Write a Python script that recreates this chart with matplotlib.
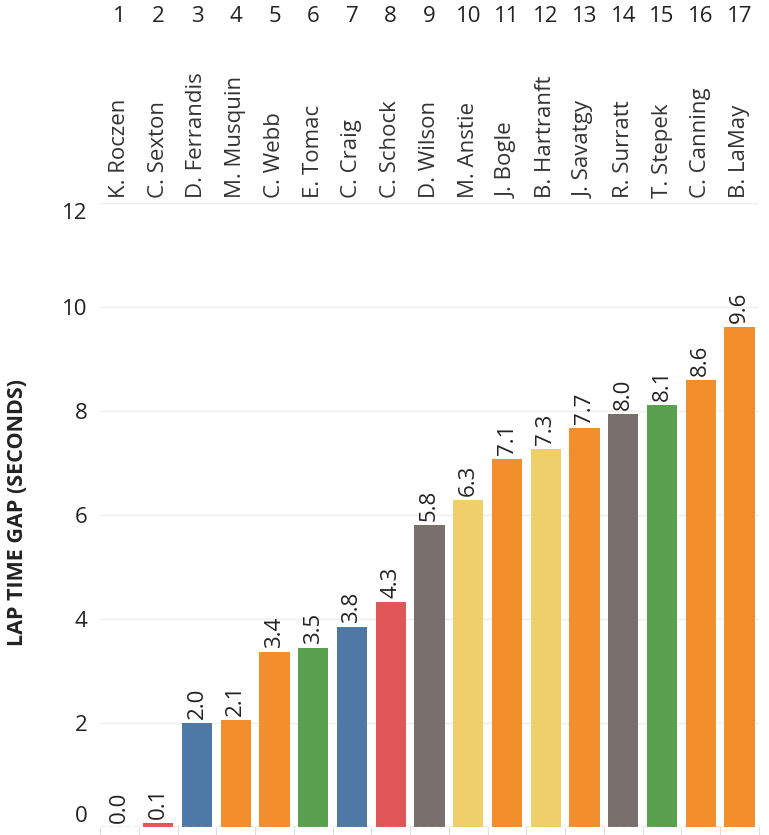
import numpy as np
import matplotlib
matplotlib.use('Agg')
import matplotlib.pyplot as plt
import matplotlib.transforms as mtransforms

# 车手与圈速差
ranks = list(range(1, 18))
riders = ['K. Roczen', 'C. Sexton', 'D. Ferrandis', 'M. Musquin', 'C. Webb',
          'E. Tomac', 'C. Craig', 'C. Schock', 'D. Wilson', 'M. Anstie',
          'J. Bogle', 'B. Hartranft', 'J. Savatgy', 'R. Surratt', 'T. Stepek',
          'C. Canning', 'B. LaMay']
gaps = [0.0, 0.08, 2.0, 2.06, 3.36, 3.45, 3.84, 4.33, 5.8, 6.28,
        7.08, 7.26, 7.68, 7.95, 8.12, 8.6, 9.62]
bar_colors = ['#4E79A7', '#E15759', '#4E79A7', '#F28E2B', '#F28E2B', '#59A14F',
              '#4E79A7', '#E15759', '#79706E', '#EFCF6A', '#F28E2B', '#EFCF6A',
              '#F28E2B', '#79706E', '#59A14F', '#F28E2B', '#F28E2B']

plt.rcParams['font.family'] = ['Open Sans', 'DejaVu Sans']

W, H = 769, 835
fig = plt.figure(figsize=(W / 100, H / 100), dpi=100)
ax = fig.add_axes([100 / W, 8 / H, 659 / W, 624 / H])

x = np.arange(len(riders))
ax.bar(x, gaps, width=0.78, color=bar_colors, zorder=3)

for xi, g in zip(x, gaps):
    ax.annotate('%.1f' % g, (xi, g), xytext=(0, 4), textcoords='offset pixels',
                rotation=90, ha='center', va='bottom', fontsize=16,
                color='#222222', zorder=4)

ax.set_xlim(-0.5, len(riders) - 0.5)
ax.set_ylim(0, 12)
ax.set_yticks(range(0, 13, 2))
ax.set_yticklabels([str(v) for v in range(0, 13, 2)], fontsize=16, color='#222222')
ax.tick_params(axis='y', length=0, pad=9)
ylabels = ax.get_yticklabels()
ylabels[0].set_va('bottom')
ylabels[-1].set_va('top')
ax.set_xticks(np.arange(-0.5, len(riders), 1.0))
ax.set_xticklabels([])
ax.tick_params(axis='x', length=6, color='#dddddd', direction='out')

ax.grid(axis='y', color='#eeeeee', linewidth=1, zorder=0)
ax.axhline(0, color='#aaaaaa', linewidth=1, linestyle=(0, (3, 3)), zorder=5)
for s in ax.spines.values():
    s.set_visible(False)

fig.text(18 / W, 1 - 512 / H, 'LAP TIME GAP (SECONDS)', rotation=90,
         ha='center', va='center', fontsize=15.5, fontweight='bold', color='#222222')

# 顶部：名次与车手名
trans = mtransforms.blended_transform_factory(ax.transData, fig.transFigure)
for xi, r, name in zip(x, ranks, riders):
    ax.text(xi, 1 - 16 / H, str(r), transform=trans, ha='center', va='center',
            fontsize=16, color='#222222')
    ax.text(xi, 1 - 198 / H, name, transform=trans, rotation=90, ha='center',
            va='bottom', fontsize=16, color='#333333')

fig.savefig('out.png', dpi=100)
